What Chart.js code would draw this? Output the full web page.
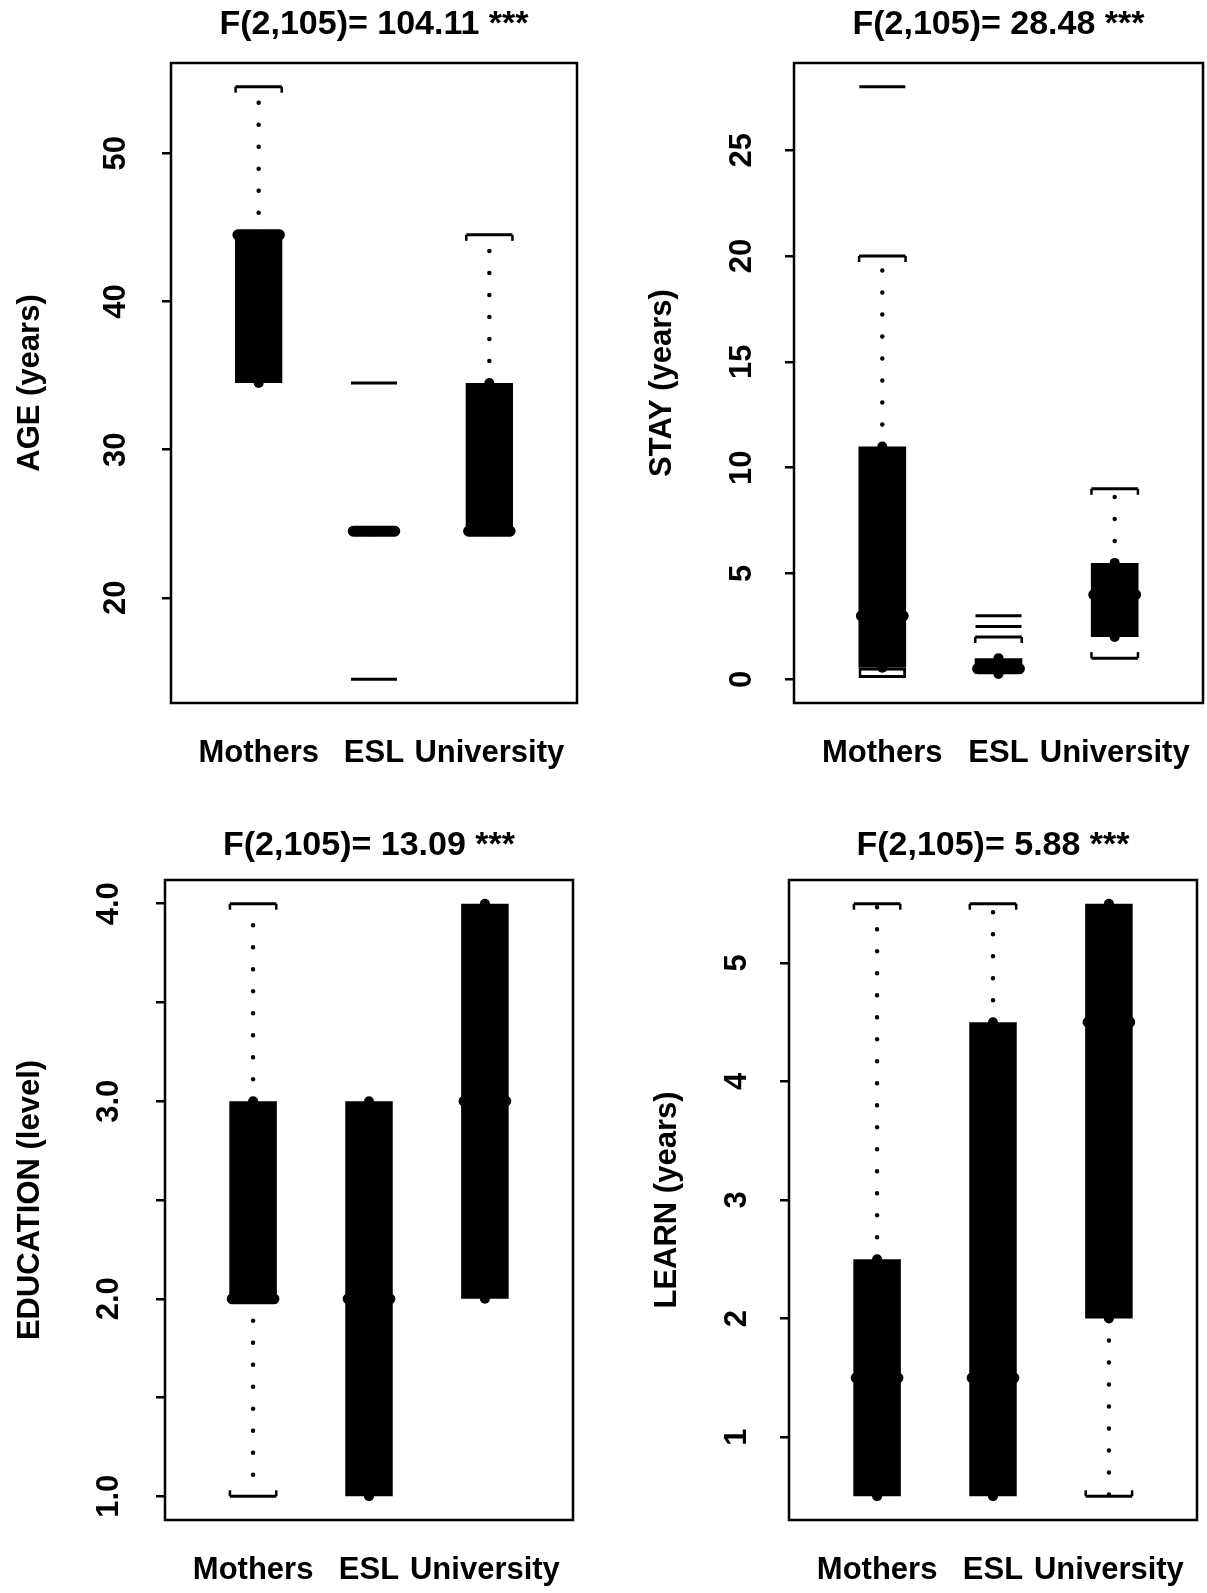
<!DOCTYPE html>
<html>
<head>
<meta charset="utf-8">
<title>Boxplots</title>
<script src="https://cdn.jsdelivr.net/npm/chart.js@4.4.0/dist/chart.umd.min.js"></script>
<style>
  body { margin: 0; background: #fff; }
  #page { position: relative; width: 1207px; height: 1593px; background: #fff; }
  #page canvas { position: absolute; }
</style>
</head>
<body>
<div id="page">
  <canvas id="age"></canvas>
  <canvas id="stay"></canvas>
  <canvas id="edu"></canvas>
  <canvas id="learn"></canvas>
</div>
<script>
// groups, one box each
const groups = ["Mothers", "ESL", "University"];

// AGE
const ageTitle = "F(2,105)= 104.11 ***";
const ageLow  = [34.5, 24.5, 24.5];
const ageQ1   = [34.5, 24.5, 24.5];
const ageMed  = [44.5, 24.5, 24.5];
const ageQ3   = [44.5, 24.5, 34.5];
const ageHigh = [54.5, 24.5, 44.5];
const ageOut  = [[], [34.5, 14.5], []];
const ageTicks = [20, 30, 40, 50];
const ageTickLabels = ["20", "30", "40", "50"];
const ageRange = [12.9, 56.1];

// STAY
const stayTitle = "F(2,105)= 28.48 ***";
const stayLow  = [0.55, 0.25, 1];
const stayQ1   = [0.55, 0.25, 2];
const stayMed  = [3, 0.5, 4];
const stayQ3   = [11, 1, 5.5];
const stayHigh = [20, 2, 9];
const stayOut  = [[28], [2.5, 3], []];
const stayFloor = [0, null, null];   // open bottom part of the Mothers box
const stayTicks = [0, 5, 10, 15, 20, 25];
const stayTickLabels = ["0", "5", "10", "15", "20", "25"];
const stayRange = [-1.12, 29.12];

// EDUCATION
const eduTitle = "F(2,105)= 13.09 ***";
const eduLow  = [1, 1, 2];
const eduQ1   = [2, 1, 2];
const eduMed  = [2, 2, 3];
const eduQ3   = [3, 3, 4];
const eduHigh = [4, 3, 4];
const eduOut  = [[], [], []];
const eduTicks = [1, 1.5, 2, 2.5, 3, 3.5, 4];
const eduTickLabels = ["1.0", "", "2.0", "", "3.0", "", "4.0"];
const eduRange = [0.88, 4.12];

// LEARN
const learnTitle = "F(2,105)= 5.88 ***";
const learnLow  = [0.5, 0.5, 0.5];
const learnQ1   = [0.5, 0.5, 2];
const learnMed  = [1.5, 1.5, 4.5];
const learnQ3   = [2.5, 4.5, 5.5];
const learnHigh = [5.5, 5.5, 5.5];
const learnOut  = [[], [], []];
const learnTicks = [1, 2, 3, 4, 5];
const learnTickLabels = ["1", "2", "3", "4", "5"];
const learnRange = [0.3, 5.7];

const xRange = [0.24, 3.76];

// look
const FONT = '"Liberation Sans", Arial, Helvetica, sans-serif';
const LAB = 31;                 // axis text size
const capHalf = 0.2, medHalf = 0.18, boxWidth = 0.41;

// R style pieces: frame, rotated y tick labels, bracket ends on staples
const rPlot = {
  id: 'rPlot',
  afterDatasetsDraw(chart) {
    const ctx = chart.ctx;
    chart.data.datasets.forEach((ds, i) => {
      if (!ds.bracket) return;
      const meta = chart.getDatasetMeta(i);
      ctx.save();
      ctx.strokeStyle = '#000';
      ctx.lineWidth = 2.5;
      meta.data.forEach(pt => {
        if (pt.skip || isNaN(pt.y)) return;
        ctx.beginPath();
        ctx.moveTo(pt.x, pt.y);
        ctx.lineTo(pt.x, pt.y + ds.bracket * 6);
        ctx.stroke();
      });
      ctx.restore();
    });
  },
  afterDraw(chart, args, opts) {
    const {ctx, chartArea: a} = chart;
    const ys = chart.scales.y;
    ctx.save();
    ctx.strokeStyle = '#000';
    ctx.lineWidth = 2.5;
    ctx.strokeRect(a.left, a.top, a.right - a.left, a.bottom - a.top);
    ctx.fillStyle = '#000';
    ctx.font = 'bold ' + LAB + 'px ' + FONT;
    ctx.textAlign = 'center';
    ctx.textBaseline = 'middle';
    ys.ticks.forEach((t, i) => {
      const lab = opts.labels[i];
      if (!lab) return;
      ctx.save();
      ctx.translate(a.left - opts.gap, ys.getPixelForValue(t.value));
      ctx.rotate(-Math.PI / 2);
      ctx.fillText(lab, 0, 0);
      ctx.restore();
    });
    ctx.restore();
  }
};

function boxplot(id, lay, d) {
  const cv = document.getElementById(id);
  cv.width = lay.w; cv.height = lay.h;
  cv.style.left = lay.x + 'px';
  cv.style.top = lay.y + 'px';
  const [fl, ft, fr, fb] = lay.frame;
  const lh = LAB * 1.2;

  const boxes = [], floors = [], whisk = [], upCaps = [], loCaps = [], meds = [], hinges = [], outs = [];
  groups.forEach((g, i) => {
    const p = i + 1;
    boxes.push({x: p, y: [d.q1[i], d.q3[i]]});
    if (d.floor && d.floor[i] !== null) floors.push({x: p, y: [d.floor[i], d.q1[i]]});
    if (d.high[i] > d.q3[i]) {
      whisk.push({x: p, y: d.q3[i]}, {x: p, y: d.high[i]}, {x: p, y: null});
      upCaps.push({x: p - capHalf, y: d.high[i]}, {x: p + capHalf, y: d.high[i]}, {x: p, y: null});
    }
    if (d.low[i] < d.q1[i]) {
      whisk.push({x: p, y: d.q1[i]}, {x: p, y: d.low[i]}, {x: p, y: null});
      loCaps.push({x: p - capHalf, y: d.low[i]}, {x: p + capHalf, y: d.low[i]}, {x: p, y: null});
    }
    meds.push({x: p - medHalf, y: d.med[i]}, {x: p + medHalf, y: d.med[i]}, {x: p, y: null});
    hinges.push({x: p, y: d.q1[i]}, {x: p, y: d.q3[i]});
    d.out[i].forEach(v => outs.push({x: p, y: v}));
  });

  const line = (data, extra) => Object.assign({
    type: 'line', data, borderColor: '#000', pointRadius: 0, spanGaps: false, fill: false
  }, extra);

  const datasets = [
    line(whisk, {borderWidth: 4.5, borderDash: [0, 22], borderCapStyle: 'round', order: 7}),
    line(upCaps, {borderWidth: 3, bracket: 1, order: 6}),
    line(loCaps, {borderWidth: 3, bracket: -1, order: 6}),
    {type: 'bar', data: boxes, backgroundColor: '#000', borderWidth: 0,
     barPercentage: boxWidth, categoryPercentage: 1, grouped: false, order: 5},
    {type: 'scatter', data: hinges, pointRadius: 5, pointBackgroundColor: '#000',
     pointBorderWidth: 0, order: 3},
    line(meds, {borderWidth: 11, borderCapStyle: 'round', order: 2}),
    {type: 'scatter', data: outs, pointStyle: 'line', pointRadius: 23,
     pointBorderWidth: 3, pointBorderColor: '#000', order: 1}
  ];
  if (floors.length) {
    datasets.push({type: 'bar', data: floors, backgroundColor: '#fff', borderColor: '#000',
      borderWidth: 3, borderSkipped: false, barPercentage: boxWidth, categoryPercentage: 1,
      grouped: false, order: 4});
  }

  return new Chart(cv, {
    type: 'bar',
    data: {datasets},
    plugins: [rPlot],
    options: {
      responsive: false,
      animation: false,
      devicePixelRatio: 1,
      events: [],
      // no extra room for point overflow, the frame sits where R put it
      layout: {autoPadding: false, padding: {left: 0, top: 0, right: lay.w - fr, bottom: 0}},
      plugins: {
        legend: {display: false},
        tooltip: {enabled: false},
        title: {
          display: true, text: d.title, color: '#000', fullSize: false,
          font: {family: FONT, size: 34, weight: 'bold'},
          padding: {top: lay.titleTop, bottom: ft - lay.titleTop - 40.8}
        },
        rPlot: {labels: d.tickLabels, gap: lay.tickGap}
      },
      scales: {
        x: {
          type: 'linear', min: xRange[0], max: xRange[1], offset: false,
          afterBuildTicks: s => { s.ticks = groups.map((g, i) => ({value: i + 1})); },
          afterFit: s => { s.height = lay.h - fb; },
          ticks: {
            autoSkip: false, maxRotation: 0, minRotation: 0, padding: 0, color: '#000',
            // tall line box puts the label centre 50px under the frame
            font: {family: FONT, size: LAB, weight: 'bold', lineHeight: '100px'},
            callback: (v, i) => groups[i]
          },
          grid: {display: false, drawTicks: false, offset: false},
          border: {display: false}
        },
        y: {
          type: 'linear', min: d.range[0], max: d.range[1],
          afterBuildTicks: s => { s.ticks = d.ticks.map(v => ({value: v})); },
          afterFit: s => { s.width = fl; },
          ticks: {display: false},
          grid: {drawOnChartArea: false, drawTicks: true, tickLength: 9, color: '#000', lineWidth: 2.5},
          border: {display: false},
          title: {
            display: true, text: d.ylab, color: '#000',
            font: {family: FONT, size: LAB, weight: 'bold'},
            padding: {top: lay.ylabX - lh / 2, bottom: 0}
          }
        }
      }
    }
  });
}

boxplot('age',
  {x: 0, y: 0, w: 603, h: 796, frame: [171, 63, 577, 703], titleTop: 4, ylabX: 30, tickGap: 55},
  {title: ageTitle, ylab: 'AGE (years)', low: ageLow, q1: ageQ1, med: ageMed, q3: ageQ3, high: ageHigh,
   out: ageOut, ticks: ageTicks, tickLabels: ageTickLabels, range: ageRange});

boxplot('stay',
  {x: 603, y: 0, w: 604, h: 796, frame: [191, 63, 600, 703], titleTop: 4, ylabX: 59, tickGap: 52},
  {title: stayTitle, ylab: 'STAY (years)', low: stayLow, q1: stayQ1, med: stayMed, q3: stayQ3, high: stayHigh,
   out: stayOut, floor: stayFloor, ticks: stayTicks, tickLabels: stayTickLabels, range: stayRange});

boxplot('edu',
  {x: 0, y: 796, w: 603, h: 797, frame: [165, 84, 573, 724], titleTop: 29, ylabX: 30, tickGap: 56},
  {title: eduTitle, ylab: 'EDUCATION (level)', low: eduLow, q1: eduQ1, med: eduMed, q3: eduQ3, high: eduHigh,
   out: eduOut, ticks: eduTicks, tickLabels: eduTickLabels, range: eduRange});

boxplot('learn',
  {x: 603, y: 796, w: 604, h: 797, frame: [186, 84, 594, 724], titleTop: 29, ylabX: 64, tickGap: 52},
  {title: learnTitle, ylab: 'LEARN (years)', low: learnLow, q1: learnQ1, med: learnMed, q3: learnQ3, high: learnHigh,
   out: learnOut, ticks: learnTicks, tickLabels: learnTickLabels, range: learnRange});
</script>
</body>
</html>
